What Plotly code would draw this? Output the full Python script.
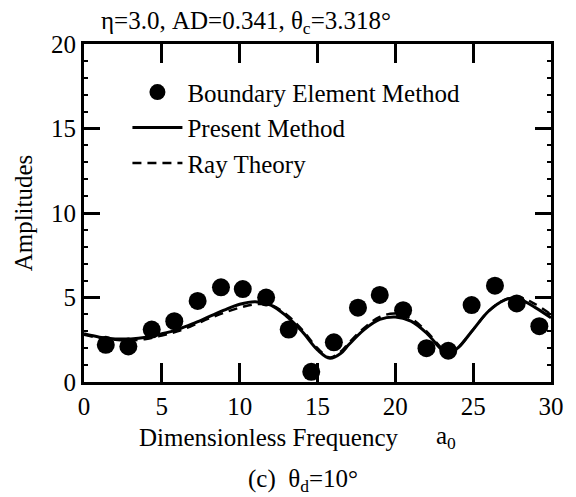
import plotly.graph_objects as go

# Boundary Element Method (dots)
bem_x = [1.4, 2.85, 4.35, 5.8, 7.3, 8.8, 10.2, 11.7, 13.15, 14.6, 16.05, 17.6, 19.0, 20.5, 22.0, 23.4, 24.9, 26.4, 27.8, 29.25]
bem_y = [2.2, 2.1, 3.1, 3.6, 4.8, 5.6, 5.5, 5.0, 3.1, 0.6, 2.35, 4.4, 5.15, 4.25, 2.0, 1.85, 4.55, 5.7, 4.65, 3.3]

# Present Method (solid)
pm_x = [0, 1, 2, 3, 4, 5, 6, 7, 8, 9, 10, 11, 12, 13, 14, 15, 15.8, 16.5, 17, 18, 19, 20, 21, 22, 23, 23.4, 24, 25, 26, 27, 27.6, 28, 29, 30]
pm_y = [2.85, 2.65, 2.55, 2.55, 2.65, 2.85, 3.1, 3.45, 3.85, 4.25, 4.6, 4.75, 4.55, 3.9, 3.0, 1.9, 1.4, 1.7, 2.2, 3.1, 3.7, 3.85, 3.6, 2.9, 1.9, 1.7, 2.0, 3.1, 4.2, 4.85, 4.97, 4.9, 4.4, 3.8]

# Ray Theory (dashed)
rt_x = [0, 1, 2, 3, 4, 5, 6, 7, 8, 9, 10, 11, 12, 13, 14, 15, 15.8, 16.5, 17, 18, 19, 20, 21, 22, 23, 23.5, 24, 25, 26, 27, 28, 29, 30]
rt_y = [2.8, 2.6, 2.5, 2.45, 2.55, 2.75, 3.0, 3.35, 3.75, 4.1, 4.4, 4.6, 4.55, 4.0, 3.1, 2.0, 1.45, 1.8, 2.3, 3.2, 3.85, 4.05, 3.75, 3.0, 2.0, 1.75, 2.0, 3.1, 4.2, 4.85, 5.0, 4.6, 4.0]

x_ticks = [0, 5, 10, 15, 20, 25, 30]
y_ticks = [0, 5, 10, 15, 20]

FONT = "Liberation Serif"

fig = go.Figure()
fig.add_trace(go.Scatter(x=bem_x, y=bem_y, mode="markers", name="Boundary Element Method",
                         marker=dict(color="black", size=18)))
fig.add_trace(go.Scatter(x=pm_x, y=pm_y, mode="lines", name="Present Method",
                         line=dict(color="black", width=3, shape="spline")))
fig.add_trace(go.Scatter(x=rt_x, y=rt_y, mode="lines", name="Ray Theory",
                         line=dict(color="black", width=2.5, dash="9px,6px", shape="spline")))

axis_common = dict(showgrid=False, zeroline=False, showline=True, linecolor="black", linewidth=3,
                   mirror="ticks", ticks="inside", tickcolor="black", tickwidth=3,
                   tickfont=dict(family=FONT, size=25, color="black"))

fig.update_xaxes(range=[0, 30], tickvals=x_ticks, ticktext=[str(v) for v in x_ticks],
                 ticklen=19, **axis_common)
fig.update_yaxes(range=[0, 20], tickvals=y_ticks, ticktext=[str(v) for v in y_ticks],
                 ticklen=16, minor=dict(dtick=1, ticks="inside", ticklen=4, tickwidth=1.5, tickcolor="black"),
                 title=dict(text="Amplitudes", font=dict(family=FONT, size=25, color="black"), standoff=12),
                 **axis_common)

fig.update_layout(
    width=576, height=497,
    margin=dict(l=84, r=14, t=44, b=115),
    paper_bgcolor="white", plot_bgcolor="white",
    font=dict(family=FONT, size=24, color="black"),
    showlegend=True,
    legend=dict(x=0.093, y=0.925, xanchor="left", yanchor="top", bgcolor="rgba(0,0,0,0)",
                itemwidth=50, tracegroupgap=0,
                font=dict(family=FONT, size=25, color="black")),
    annotations=[
        dict(text="η=3.0, AD=0.341, θ<sub>c</sub>=3.318°", xref="paper", yref="paper",
             x=(99 - 84) / 478, y=1.0, xanchor="left", yanchor="bottom", yshift=4,
             showarrow=False, font=dict(family=FONT, size=25, color="black")),
        dict(text="Dimensionless Frequency", xref="paper", yref="paper",
             x=(273 - 84) / 478, y=0, yshift=-55, xanchor="center", yanchor="middle",
             showarrow=False, font=dict(family=FONT, size=25, color="black")),
        dict(text="a<sub>0</sub>", xref="paper", yref="paper",
             x=(455 - 84) / 478, y=0, yshift=-55, xanchor="center", yanchor="middle",
             showarrow=False, font=dict(family=FONT, size=25, color="black")),
        dict(text="(c)  θ<sub>d</sub>=10°", xref="paper", yref="paper",
             x=(308 - 84) / 478, y=0, yshift=-98, xanchor="center", yanchor="middle",
             showarrow=False, font=dict(family=FONT, size=25, color="black")),
    ],
)

fig.write_html("out.html")
